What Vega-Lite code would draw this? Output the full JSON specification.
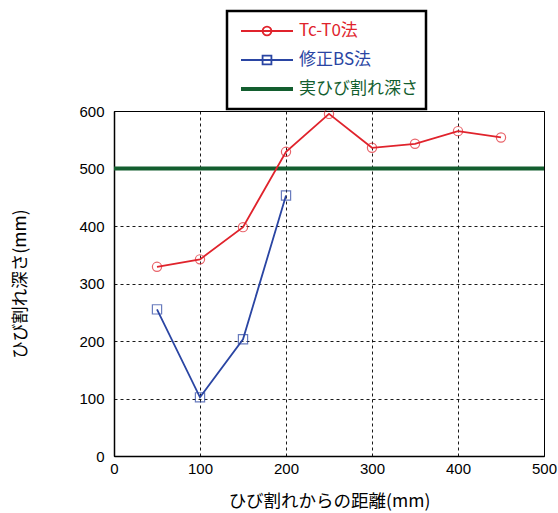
{
  "$schema": "https://vega.github.io/schema/vega-lite/v6.json",
  "width": 430,
  "height": 345,
  "autosize": "none",
  "padding": {"left": 114, "top": 111, "right": 14, "bottom": 57},
  "background": "white",
  "config": {
    "view": {"stroke": "black", "strokeWidth": 1},
    "font": "Noto Sans CJK JP",
    "axis": {
      "labelFont": "Liberation Sans",
      "labelFontSize": 15,
      "labelColor": "black",
      "labelFlush": false,
      "domainColor": "black",
      "domainWidth": 1.5,
      "ticks": false,
      "gridColor": "black",
      "gridDash": [3, 3],
      "gridOpacity": 0.9,
      "titleFont": "Noto Sans CJK JP",
      "titleFontSize": 17.5,
      "titleFontWeight": "normal",
      "titleColor": "black"
    }
  },
  "data": {
    "values": [
      {"x": 50, "y": 329, "series": "Tc-T0法"},
      {"x": 100, "y": 342, "series": "Tc-T0法"},
      {"x": 150, "y": 398, "series": "Tc-T0法"},
      {"x": 200, "y": 529, "series": "Tc-T0法"},
      {"x": 250, "y": 595, "series": "Tc-T0法"},
      {"x": 300, "y": 536, "series": "Tc-T0法"},
      {"x": 350, "y": 543, "series": "Tc-T0法"},
      {"x": 400, "y": 565, "series": "Tc-T0法"},
      {"x": 450, "y": 554, "series": "Tc-T0法"},
      {"x": 50, "y": 255, "series": "修正BS法"},
      {"x": 100, "y": 102, "series": "修正BS法"},
      {"x": 150, "y": 203, "series": "修正BS法"},
      {"x": 200, "y": 453, "series": "修正BS法"},
      {"x": 0, "y": 500, "series": "実ひび割れ深さ"},
      {"x": 500, "y": 500, "series": "実ひび割れ深さ"}
    ]
  },
  "encoding": {
    "x": {
      "field": "x",
      "type": "quantitative",
      "scale": {"domain": [0, 500], "nice": false},
      "axis": {"values": [0, 100, 200, 300, 400, 500], "labelPadding": 5, "title": "ひび割れからの距離(mm)", "titlePadding": 16}
    },
    "y": {
      "field": "y",
      "type": "quantitative",
      "scale": {"domain": [0, 600], "nice": false},
      "axis": {"values": [0, 100, 200, 300, 400, 500, 600], "labelPadding": 10, "title": "ひび割れ深さ(mm)", "titlePadding": 49}
    },
    "color": {
      "field": "series",
      "type": "nominal",
      "scale": {"domain": ["Tc-T0法", "修正BS法", "実ひび割れ深さ"], "range": ["#e0232c", "#2a45a3", "#135e2f"]},
      "legend": {
        "title": null,
        "orient": "none",
        "legendX": 113,
        "legendY": -100,
        "padding": 8,
        "strokeColor": "black",
        "symbolSize": 2704,
        "symbolStrokeWidth": 1.8,
        "symbolOffset": 5,
        "clipHeight": 24,
        "rowPadding": 5,
        "labelFont": "Noto Sans CJK JP",
        "labelFontSize": 17,
        "labelOffset": 5,
        "labelLimit": 300,
        "encode": {
          "legend": {"update": {"strokeWidth": {"value": 2.5}}},
          "symbols": {
            "update": {
              "shape": {"signal": "datum.value === 'Tc-T0法' ? 'M-1,0H1M0.17,0A0.17,0.17,0,1,1,-0.17,0A0.17,0.17,0,1,1,0.17,0' : datum.value === '修正BS法' ? 'M-1,0H1M-0.17,-0.17H0.17V0.17H-0.17Z' : 'M-1,-0.04H1M-1,0H1M-1,0.04H1'"},
              "fill": {"value": "transparent"},
              "stroke": {"scale": "color", "field": "value"}
            }
          },
          "labels": {"update": {"fill": {"scale": "color", "field": "value"}}}
        }
      }
    }
  },
  "layer": [
    {
      "transform": [{"filter": "datum.series === '実ひび割れ深さ'"}],
      "mark": {"type": "line", "strokeWidth": 4}
    },
    {
      "transform": [{"filter": "datum.series !== '実ひび割れ深さ'"}],
      "mark": {"type": "line", "strokeWidth": 1.8}
    },
    {
      "transform": [{"filter": "datum.series !== '実ひび割れ深さ'"}],
      "mark": {"type": "point", "filled": false, "size": 85, "strokeWidth": 1.2},
      "encoding": {
        "shape": {
          "field": "series",
          "type": "nominal",
          "scale": {"domain": ["Tc-T0法", "修正BS法"], "range": ["circle", "square"]},
          "legend": null
        }
      }
    }
  ]
}
